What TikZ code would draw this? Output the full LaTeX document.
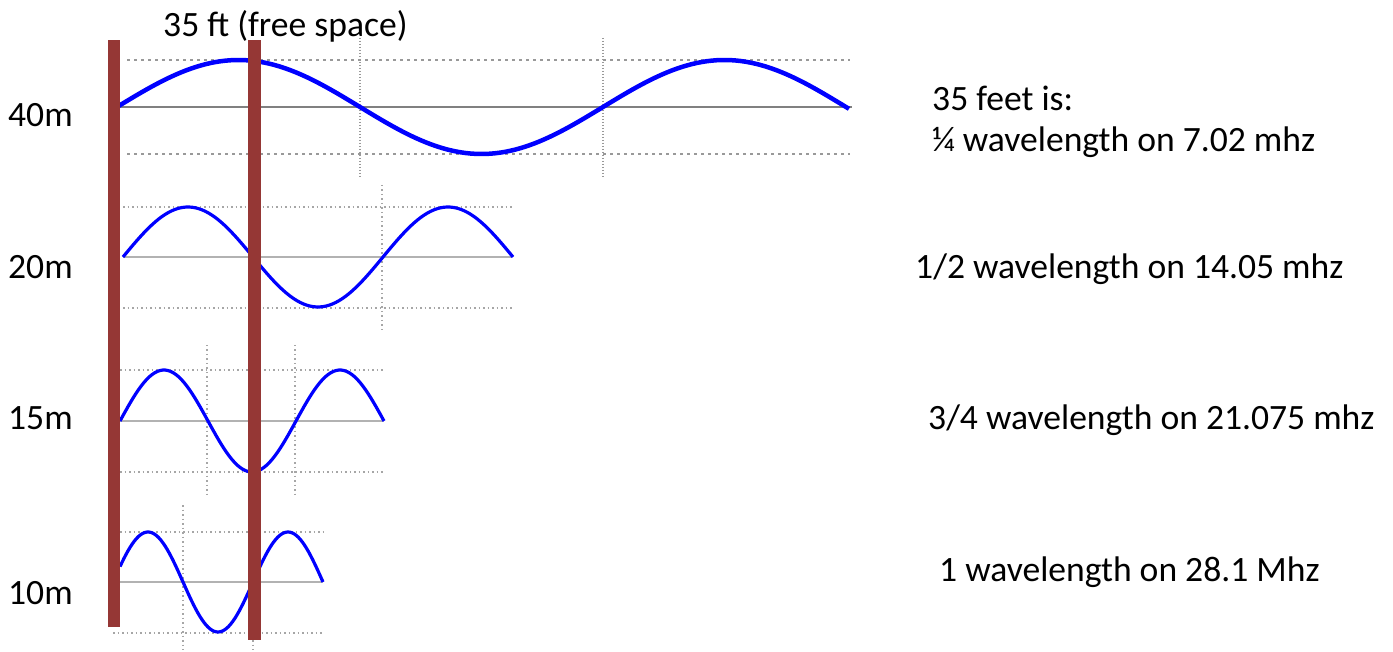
\documentclass[tikz,border=0pt]{standalone}
\usepackage{fontspec}
\setmainfont{Carlito}
\definecolor{barbrown}{HTML}{953735}
\definecolor{wave}{HTML}{0000FF}
\begin{document}
\begin{tikzpicture}[x=1pt,y=-1pt,
  wavethick/.style={wave, line width=4.5pt, line join=round},
  wavethin/.style={wave, line width=3.2pt, line join=round},
  axisdark/.style={draw=black!50, line width=1.3pt},
  axislight/.style={draw=black!30, line width=2pt},
  griddash/.style={draw=black!40, line width=1.2pt, dash pattern=on 3pt off 4pt},
  griddot/.style={draw=black!35, line width=1.5pt, dash pattern=on 1.5pt off 3pt},
  gridvdense/.style={draw=black!40, line width=1.5pt, dash pattern=on 1.5pt off 1.5pt},
  bar/.style={fill=barbrown, draw=none},
  lbl/.style={font=\fontsize{35.6}{42}\selectfont, anchor=base west, inner sep=0pt, text=black}]
\useasboundingbox (0,0) rectangle (1393,652);
% ---------- 40m ----------
\draw[griddash] (127,60) -- (850,60);
\draw[griddash] (127,154) -- (850,154);
\draw[gridvdense] (360,38) -- (360,178);
\draw[gridvdense] (603,38) -- (603,178);
\draw[axisdark] (117,107) -- (852,107);
\draw[wavethick] plot[domain=117:849, samples=150] (\x,{107-47*sin((\x-117)/243*180)});
% ---------- 20m ----------
\draw[griddot] (123,207) -- (512,207);
\draw[griddot] (123,308) -- (512,308);
\draw[griddot] (382,185) -- (382,333);
\draw[axislight] (123,257) -- (512,257);
\draw[wavethin] plot[domain=123:513, samples=120] (\x,{257-50*sin((\x-123)/130*180)});
% ---------- 15m ----------
\draw[griddot] (120,370) -- (384,370);
\draw[griddot] (120,472) -- (384,472);
\draw[griddot] (207,345) -- (207,497);
\draw[griddot] (295,345) -- (295,497);
\draw[axislight] (120,421) -- (384,421);
\draw[wavethin] plot[domain=120:384, samples=100] (\x,{421-51*sin((\x-120)/88*180)});
% ---------- 10m ----------
\draw[griddot] (120,532) -- (323,532);
\draw[griddot] (113,633) -- (323,633);
\draw[griddot] (183,505) -- (183,650);
\draw[griddot] (253,505) -- (253,650);
\draw[axislight] (120,582) -- (323,582);
\draw[wavethin] plot[domain=120:323, samples=100] (\x,{582-50*sin((\x-113)/70*180)});
% ---------- bars ----------
\fill[bar] (108,40) rectangle (120,627);
\fill[bar] (248,40) rectangle (261,640);
% ---------- labels ----------
\node[lbl] (title) at (163,37) {35 ft (free space)};
\node[lbl] (l40) at (8,127) {40m};
\node[lbl] (l20) at (8,279) {20m};
\node[lbl] (l15) at (8,429) {15m};
\node[lbl] (l10) at (8,604) {10m};
\node[lbl] (r1) at (932,111) {35 feet is:};
\node[lbl] (r2) at (932,152) {¼ wavelength on 7.02 mhz};
\node[lbl] (r3) at (915,279) {1/2 wavelength on 14.05 mhz};
\node[lbl] (r4) at (928,429) {3/4 wavelength on 21.075 mhz};
\node[lbl] (r5) at (939,581) {1 wavelength on 28.1 Mhz};
\end{tikzpicture}
\end{document}
